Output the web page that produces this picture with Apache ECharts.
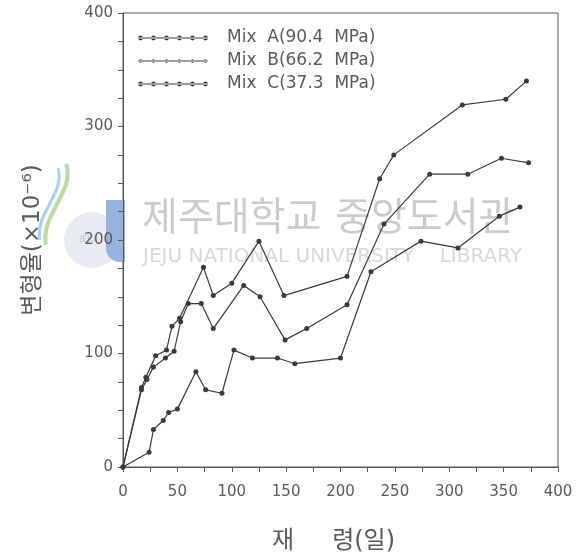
<!DOCTYPE html>
<html>
<head>
<meta charset="utf-8">
<script src="https://cdn.jsdelivr.net/npm/echarts@6/dist/echarts.min.js"></script>
<style>
  html, body { margin: 0; padding: 0; background: #fff; }
  #chart { width: 581px; height: 558px; }
</style>
</head>
<body>
<div id="chart"></div>
<script>
// Age (days) and strain (x10^-6) for each mix
const ageA = [0, 17, 21, 30, 40, 45, 52, 74, 83, 100, 125, 148, 206, 236, 249, 312, 352, 371];
const strainA = [0, 70, 79, 98, 103, 124, 131, 176, 151, 162, 199, 151, 168, 254, 275, 319, 324, 340];

const ageB = [0, 17, 22, 28, 39, 47, 53, 60, 72, 83, 111, 126, 149, 169, 206, 240, 282, 317, 348, 373];
const strainB = [0, 68, 77, 88, 96, 102, 128, 144, 144, 122, 160, 150, 112, 122, 143, 214, 258, 258, 272, 268];

const ageC = [0, 24, 28, 37, 42, 50, 67, 76, 91, 102, 119, 142, 158, 200, 228, 274, 308, 346, 365];
const strainC = [0, 13, 33, 41, 48, 51, 84, 68, 65, 103, 96, 96, 91, 96, 172, 199, 193, 221, 229];

const seriesNames = ['Mix  A(90.4  MPa)', 'Mix  B(66.2  MPa)', 'Mix  C(37.3  MPa)'];

const xTicks = [0, 50, 100, 150, 200, 250, 300, 350, 400];
const yTicks = [0, 100, 200, 300, 400];

const xName = '재     령(일)';
const yName = '변형율(×10⁻⁶)';

const zip = (xs, ys) => xs.map((x, i) => [x, ys[i]]);

// legend swatch: a short line with six dots on it
function swatch(r) {
  let p = 'path://M0,2.4 L70,2.4 L70,3.6 L0,3.6 Z';
  for (let i = 0; i < 6; i++) {
    const cx = 2.5 + i * 13;
    p += ' M' + (cx - r) + ',3 a' + r + ',' + r + ' 0 1,0 ' + (2 * r) + ',0 a' + r + ',' + r + ' 0 1,0 ' + (-2 * r) + ',0 Z';
  }
  return p;
}

const lineColor = '#3a3a3a';
const textColor = '#5a5a5a';
const font = 'DejaVu Sans, Noto Sans CJK KR, sans-serif';
const cjk = 'Noto Sans CJK KR, sans-serif';

function lineSeries(name, data) {
  return {
    name: name,
    type: 'line',
    data: data,
    symbol: 'circle',
    symbolSize: 5,
    lineStyle: { color: lineColor, width: 1.2 },
    itemStyle: { color: lineColor },
    z: 3,
    animation: false
  };
}

const chart = echarts.init(document.getElementById('chart'));
chart.setOption({
  backgroundColor: '#ffffff',
  animation: false,
  grid: {
    left: 123, right: 23, top: 13, bottom: 91,
    containLabel: false,
    outerBoundsMode: 'none',
    show: true, borderColor: '#555', borderWidth: 1, backgroundColor: 'transparent'
  },
  legend: {
    left: 138, top: 29, padding: 0,
    orient: 'vertical',
    itemWidth: 70, itemHeight: 5, itemGap: 5,
    data: seriesNames.map((n, i) => ({ name: n, icon: swatch(i === 1 ? 1.8 : 2.4) })),
    textStyle: { color: textColor, fontSize: 17, fontFamily: font, lineHeight: 18, padding: [0, 0, 0, 14] },
    selectedMode: false
  },
  graphic: [
    // library watermark
    { type: 'circle', shape: { cx: 92, cy: 240, r: 28 }, style: { fill: '#e8ebf2' }, z: 0, silent: true },
    { type: 'bezierCurve', shape: { x1: 66, y1: 164, cpx1: 76, cpy1: 190, cpx2: 40, cpy2: 215, x2: 46, y2: 245 }, style: { stroke: '#b9dca0', lineWidth: 4, fill: null }, z: 0, silent: true },
    { type: 'bezierCurve', shape: { x1: 58, y1: 168, cpx1: 66, cpy1: 192, cpx2: 34, cpy2: 215, x2: 40, y2: 240 }, style: { stroke: '#a6d3f0', lineWidth: 3, fill: null }, z: 0, silent: true },
    { type: 'rect', shape: { x: 106, y: 200, width: 19, height: 62, r: [0, 0, 0, 14] }, style: { fill: '#97b3dc' }, z: 0, silent: true },
    { type: 'text', left: 80, top: 236, style: { text: 'JEJU', fill: '#b8bfd0', fontSize: 8, fontFamily: font }, z: 0, silent: true },
    { type: 'text', left: 142, top: 196, style: { text: '제주대학교', fill: '#cbcbcb', fontSize: 39, fontFamily: cjk }, z: 0, silent: true },
    { type: 'text', left: 335, top: 196, style: { text: '중앙도서관', fill: '#cbcbcb', fontSize: 39, fontFamily: cjk }, z: 0, silent: true },
    { type: 'text', left: 143, top: 247, style: { text: 'JEJU NATIONAL UNIVERSITY    LIBRARY', fill: '#d8d8d8', fontSize: 20, fontFamily: 'DejaVu Sans, sans-serif' }, z: 0, silent: true }
  ],
  xAxis: {
    type: 'value',
    min: 0, max: 400, interval: 25,
    name: xName,
    nameLocation: 'middle',
    nameGap: 63,
    nameTextStyle: { color: textColor, fontSize: 24, fontFamily: font, padding: [0, 14, 0, 0] },
    axisLine: { show: true, lineStyle: { color: '#555', width: 1 } },
    axisTick: { show: true, length: 5, inside: false, lineStyle: { color: '#555' } },
    axisLabel: {
      color: textColor, fontSize: 15, fontFamily: font, margin: 18,
      formatter: v => (xTicks.indexOf(v) >= 0 ? String(v) : '')
    },
    splitLine: { show: false }
  },
  yAxis: {
    type: 'value',
    min: 0, max: 400, interval: 25,
    name: yName,
    nameLocation: 'middle',
    nameGap: 78,
    nameRotate: 90,
    nameTextStyle: { color: textColor, fontSize: 23, fontFamily: font },
    axisLine: { show: true, lineStyle: { color: '#555', width: 1 } },
    axisTick: { show: true, length: 5, inside: false, lineStyle: { color: '#555' } },
    axisLabel: {
      color: textColor, fontSize: 15, fontFamily: font, margin: 10,
      formatter: v => (yTicks.indexOf(v) >= 0 ? String(v) : '')
    },
    splitLine: { show: false }
  },
  series: [
    lineSeries(seriesNames[0], zip(ageA, strainA)),
    lineSeries(seriesNames[1], zip(ageB, strainB)),
    lineSeries(seriesNames[2], zip(ageC, strainC))
  ]
});
</script>
</body>
</html>
